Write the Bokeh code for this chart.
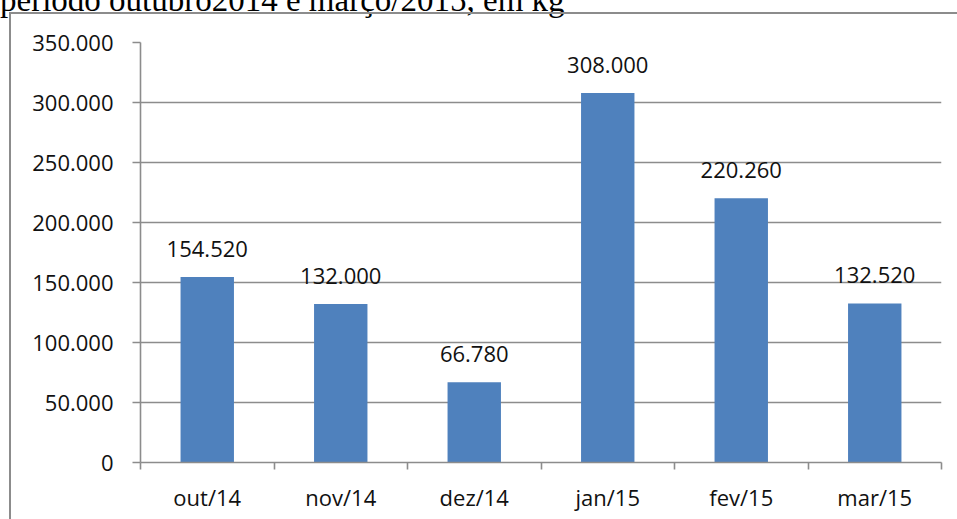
from bokeh.plotting import figure
from bokeh.models import (FixedTicker, LabelSet, ColumnDataSource, Range1d,
                          Div, InlineStyleSheet)
from bokeh.layouts import column
from bokeh.core.properties import value
from bokeh.embed import file_html
from bokeh.resources import INLINE

# ---- data ----
categories = ["out/14", "nov/14", "dez/14", "jan/15", "fev/15", "mar/15"]
values = [154520, 132000, 66780, 308000, 220260, 132520]
value_labels = ["154.520", "132.000", "66.780", "308.000", "220.260", "132.520"]
y_ticks = [0, 50000, 100000, 150000, 200000, 250000, 300000, 350000]
y_tick_labels = ["0", "50.000", "100.000", "150.000", "200.000",
                 "250.000", "300.000", "350.000"]
title_text = "período outubro2014 e março/2015, em kg"

GRAY = "#8c8c8c"
BAR = "#4f81bd"
FONT = "Open Sans"

centers = [i + 0.5 for i in range(len(categories))]
bounds = list(range(len(categories) + 1))

src = ColumnDataSource(dict(x=centers, top=values, lab=value_labels))

border_css = InlineStyleSheet(css="""
:host { position: relative; }
:host::after {
  content: "";
  position: absolute;
  left: 9px; top: 12px; right: -20px; bottom: -20px;
  border: 2px solid #8c8c8c;
  pointer-events: none;
}
""")

p = figure(frame_width=801, frame_height=420,
           x_range=Range1d(0, len(categories)),
           y_range=Range1d(y_ticks[0], y_ticks[-1]),
           output_backend="svg", toolbar_location=None,
           min_border_left=140, min_border_right=16, min_border_top=42,
           min_border_bottom=57, stylesheets=[border_css])
p.outline_line_color = None
p.background_fill_color = "white"
p.border_fill_alpha = 0

p.vbar(x="x", top="top", bottom=0, width=0.4, source=src,
       fill_color=BAR, line_color=None)

# grid
p.xgrid.visible = False
p.ygrid.ticker = FixedTicker(ticks=y_ticks)
p.ygrid.grid_line_color = GRAY
p.ygrid.grid_line_width = 1.6

# y axis
ya = p.yaxis[0]
ya.ticker = FixedTicker(ticks=y_ticks)
ya.major_label_overrides = {t: s for t, s in zip(y_ticks, y_tick_labels)}
ya.axis_line_color = GRAY
ya.axis_line_width = 1.6
ya.major_tick_line_color = GRAY
ya.major_tick_line_width = 1.6
ya.major_tick_out = 8
ya.major_tick_in = 0
ya.minor_tick_line_color = None
ya.major_label_standoff = 19
ya.major_label_text_font = FONT
ya.major_label_text_font_size = "22px"
ya.major_label_text_color = "#111111"

# x axis
xa = p.xaxis[0]
xa.ticker = FixedTicker(ticks=centers, minor_ticks=bounds)
xa.major_label_overrides = {c: s for c, s in zip(centers, categories)}
xa.axis_line_color = GRAY
xa.axis_line_width = 1.6
xa.major_tick_line_color = None
xa.major_tick_out = 0
xa.major_tick_in = 0
xa.minor_tick_line_color = GRAY
xa.minor_tick_line_width = 1.6
xa.minor_tick_out = 7
xa.minor_tick_in = 0
xa.major_label_standoff = 12
xa.major_label_text_font = FONT
xa.major_label_text_font_size = "22px"
xa.major_label_text_color = "#111111"

# value labels
p.add_layout(LabelSet(x="x", y="top", text="lab", source=src,
                      text_align="center", text_baseline="alphabetic",
                      y_offset=20, text_font=value(FONT),
                      text_font_size=value("22px"),
                      text_color="#111111"))

# cut-off caption above the chart (partly outside the page top)
caption = Div(text=title_text, width=957, height=33,
              margin=(-16, 0, -17, 0),
              styles={"font-family": "Liberation Serif",
                      "font-size": "33px", "line-height": "33px",
                      "white-space": "nowrap", "color": "#000000"})

layout = column(caption, p, spacing=0)

open("out.html", "w").write(file_html(layout, INLINE))
